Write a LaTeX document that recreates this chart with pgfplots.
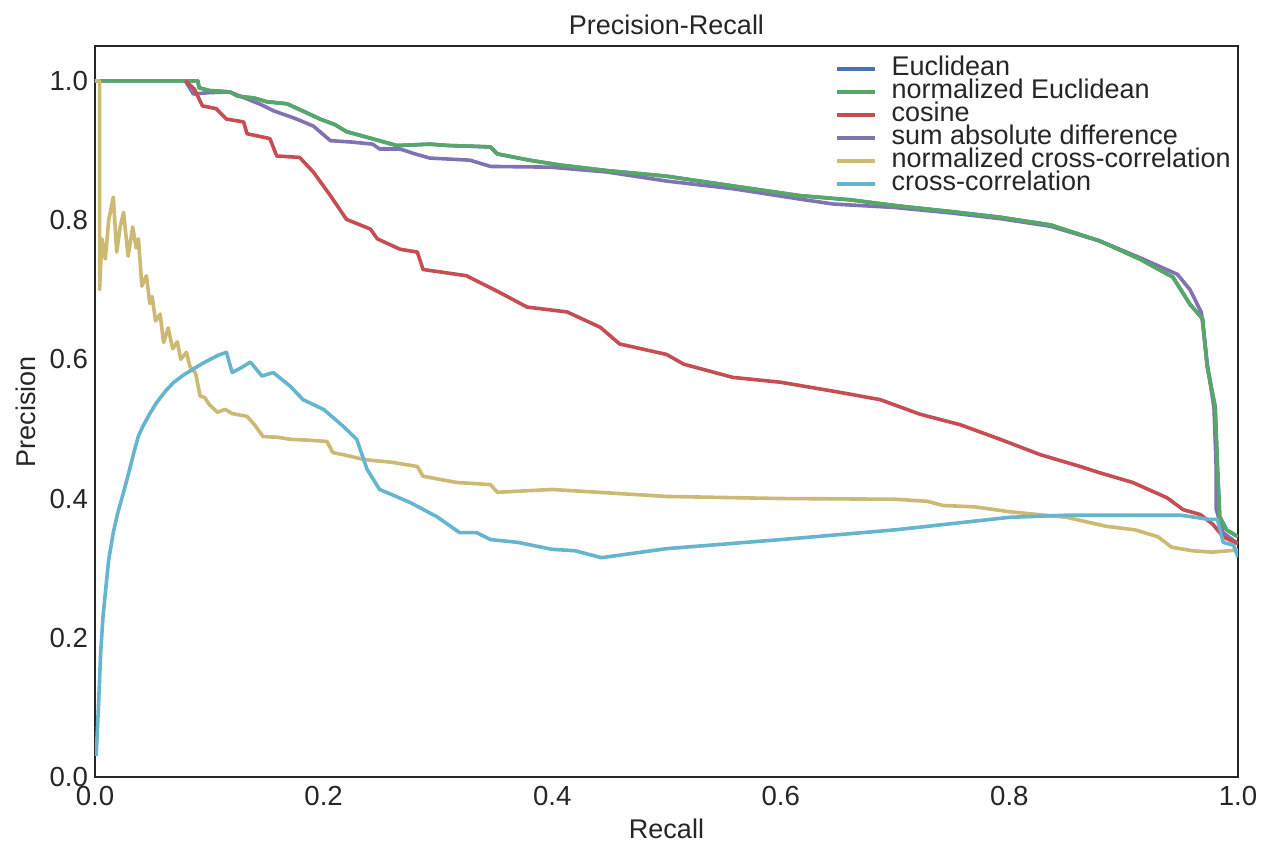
\documentclass[border=0pt]{standalone}
\usepackage{fontspec}
\setmainfont{Liberation Sans}
\usepackage{pgfplots}
\pgfplotsset{compat=1.18}
\definecolor{cEuc}{HTML}{4C72B0}
\definecolor{cNEuc}{HTML}{55A868}
\definecolor{cCos}{HTML}{C44E52}
\definecolor{cSAD}{HTML}{8172B2}
\definecolor{cNCC}{HTML}{CCB974}
\definecolor{cCC}{HTML}{64B5CD}
\definecolor{axcol}{HTML}{262626}
\begin{document}
\begin{tikzpicture}
\begin{axis}[
  scale only axis, width=571.5pt, height=365.5pt,
  xmin=0, xmax=1, ymin=0, ymax=1.05,
  xtick={0,0.2,0.4,0.6,0.8,1.0}, ytick={0,0.2,0.4,0.6,0.8,1.0},
  tick style={draw=none},
  axis line style={draw=axcol, line width=1.25pt},
  /pgf/number format/assume math mode=true,
  /pgf/number format/fixed, /pgf/number format/fixed zerofill, /pgf/number format/precision=1,
  ticklabel style={font=\fontsize{13.8}{15}\selectfont, text=axcol},
  xticklabel style={yshift=-1pt},
  title={Precision-Recall}, title style={font=\fontsize{13.5}{15}\selectfont, text=axcol, yshift=-4pt},
  xlabel={Recall}, ylabel={Precision},
  label style={font=\fontsize{13.5}{15}\selectfont, text=axcol},
  legend cell align=left,
  legend style={at={(rel axis cs:0.994,0.985)}, anchor=north east, draw=none, fill=none,
    font=\fontsize{13.5}{14}\selectfont, text=axcol, row sep=0pt, inner sep=0pt,
    nodes={inner sep=0pt, text height=9.3pt, text depth=2.2pt}},
  legend image code/.code={\draw[#1, line width=1.8pt] (0pt,0pt) -- (19pt,0pt); \path (26.5pt,0pt);},
  every axis plot/.append style={line width=1.8pt, line join=round},
]
% Euclidean (hidden under normalized Euclidean)
\addplot[cEuc, forget plot] coordinates {
(0,1.0) (0.09,1.0) (0.091,0.990) (0.10,0.986) (0.118,0.984) (0.125,0.978) (0.14,0.975) (0.150,0.970) (0.168,0.967) (0.18,0.958) (0.197,0.945) (0.21,0.937) (0.220,0.927) (0.24,0.918) (0.264,0.907) (0.293,0.909) (0.31,0.907) (0.33,0.906) (0.346,0.905) (0.352,0.895) (0.38,0.886) (0.407,0.879) (0.448,0.871) (0.5,0.863) (0.558,0.849) (0.617,0.835) (0.661,0.829) (0.704,0.82) (0.75,0.812) (0.792,0.804) (0.836,0.793) (0.879,0.770) (0.914,0.744) (0.943,0.718) (0.958,0.679) (0.969,0.658) (0.973,0.590) (0.980,0.532) (0.982,0.446) (0.984,0.374) (0.990,0.355) (1.0,0.345)
};
% sum absolute difference
\addplot[cSAD, forget plot] coordinates {
(0.079,1.0) (0.086,0.981) (0.10,0.983) (0.118,0.984) (0.133,0.974) (0.145,0.966) (0.156,0.957) (0.175,0.946) (0.191,0.935) (0.206,0.914) (0.225,0.912) (0.243,0.909) (0.249,0.902) (0.267,0.902) (0.28,0.895) (0.293,0.889) (0.328,0.886) (0.346,0.877) (0.398,0.876) (0.448,0.869) (0.5,0.856) (0.558,0.845) (0.617,0.830) (0.646,0.823) (0.70,0.818) (0.75,0.810) (0.792,0.802) (0.836,0.791) (0.879,0.770) (0.914,0.746) (0.947,0.722) (0.958,0.70) (0.968,0.667) (0.973,0.595) (0.979,0.53) (0.981,0.44) (0.981,0.384) (0.987,0.351) (1.0,0.335)
};
% normalized Euclidean
\addplot[cNEuc, forget plot] coordinates {
(0,1.0) (0.09,1.0) (0.091,0.990) (0.10,0.986) (0.118,0.984) (0.125,0.978) (0.14,0.975) (0.150,0.970) (0.168,0.967) (0.18,0.958) (0.197,0.945) (0.21,0.937) (0.220,0.927) (0.24,0.918) (0.264,0.907) (0.293,0.909) (0.31,0.907) (0.33,0.906) (0.346,0.905) (0.352,0.895) (0.38,0.886) (0.407,0.879) (0.448,0.871) (0.5,0.863) (0.558,0.849) (0.617,0.835) (0.661,0.829) (0.704,0.82) (0.75,0.812) (0.792,0.804) (0.836,0.793) (0.879,0.770) (0.914,0.744) (0.943,0.718) (0.958,0.679) (0.969,0.658) (0.973,0.590) (0.980,0.532) (0.982,0.446) (0.984,0.374) (0.990,0.355) (1.0,0.345)
};
% cosine
\addplot[cCos, forget plot] coordinates {
(0.079,1.0) (0.087,0.988) (0.094,0.964) (0.106,0.96) (0.115,0.945) (0.130,0.941) (0.133,0.924) (0.153,0.917) (0.159,0.892) (0.179,0.89) (0.191,0.869) (0.206,0.835) (0.220,0.801) (0.241,0.787) (0.247,0.773) (0.267,0.758) (0.282,0.754) (0.287,0.729) (0.325,0.72) (0.354,0.696) (0.378,0.675) (0.413,0.668) (0.442,0.646) (0.459,0.622) (0.500,0.607) (0.515,0.593) (0.558,0.574) (0.600,0.567) (0.65,0.553) (0.687,0.542) (0.722,0.521) (0.757,0.506) (0.792,0.485) (0.827,0.463) (0.862,0.446) (0.879,0.437) (0.908,0.423) (0.938,0.401) (0.952,0.384) (0.967,0.377) (0.978,0.363) (0.987,0.345) (1.0,0.335)
};
% normalized cross-correlation
\addplot[cNCC, forget plot] coordinates {
(0,1.0) (0.004,1.0) (0.004,0.70) (0.006,0.773) (0.009,0.744) (0.012,0.80) (0.016,0.833) (0.019,0.754) (0.022,0.79) (0.025,0.811) (0.029,0.748) (0.033,0.79) (0.036,0.76) (0.038,0.773) (0.041,0.705) (0.045,0.72) (0.048,0.68) (0.05,0.69) (0.053,0.655) (0.057,0.665) (0.06,0.624) (0.064,0.645) (0.068,0.615) (0.072,0.625) (0.075,0.60) (0.080,0.61) (0.083,0.59) (0.088,0.58) (0.092,0.547) (0.096,0.545) (0.100,0.535) (0.107,0.524) (0.114,0.528) (0.120,0.522) (0.133,0.518) (0.140,0.505) (0.147,0.489) (0.160,0.488) (0.171,0.485) (0.185,0.484) (0.203,0.482) (0.208,0.466) (0.220,0.462) (0.235,0.456) (0.26,0.452) (0.282,0.446) (0.287,0.432) (0.300,0.428) (0.317,0.423) (0.346,0.42) (0.352,0.409) (0.40,0.413) (0.43,0.41) (0.5,0.403) (0.6,0.40) (0.7,0.399) (0.728,0.396) (0.742,0.39) (0.77,0.388) (0.8,0.381) (0.85,0.373) (0.885,0.36) (0.91,0.355) (0.93,0.345) (0.942,0.33) (0.96,0.325) (0.977,0.323) (1.0,0.326)
};
% cross-correlation
\addplot[cCC, forget plot] coordinates {
(0.001,0.03) (0.003,0.10) (0.005,0.18) (0.007,0.23) (0.010,0.28) (0.012,0.312) (0.016,0.351) (0.020,0.38) (0.025,0.409) (0.030,0.44) (0.034,0.466) (0.038,0.49) (0.042,0.504) (0.048,0.522) (0.054,0.538) (0.062,0.555) (0.069,0.567) (0.078,0.578) (0.086,0.586) (0.094,0.594) (0.101,0.60) (0.108,0.606) (0.115,0.61) (0.12,0.581) (0.128,0.588) (0.136,0.596) (0.146,0.576) (0.156,0.581) (0.171,0.561) (0.182,0.542) (0.20,0.528) (0.217,0.504) (0.229,0.485) (0.238,0.442) (0.249,0.413) (0.262,0.404) (0.276,0.394) (0.299,0.374) (0.319,0.351) (0.334,0.351) (0.346,0.341) (0.37,0.337) (0.40,0.327) (0.42,0.325) (0.443,0.315) (0.5,0.328) (0.6,0.341) (0.7,0.355) (0.8,0.373) (0.85,0.376) (0.9,0.376) (0.95,0.376) (0.975,0.37) (0.982,0.37) (0.987,0.337) (0.996,0.333) (1.0,0.316)
};
\addlegendimage{cEuc}\addlegendentry{Euclidean}
\addlegendimage{cNEuc}\addlegendentry{normalized Euclidean}
\addlegendimage{cCos}\addlegendentry{cosine}
\addlegendimage{cSAD}\addlegendentry{sum absolute difference}
\addlegendimage{cNCC}\addlegendentry{normalized cross-correlation}
\addlegendimage{cCC}\addlegendentry{cross-correlation}
\end{axis}
\path (current axis.south west) ++(-47.5pt,-34pt) rectangle ([shift={(13pt,23pt)}]current axis.north east);
\end{tikzpicture}
\end{document}
